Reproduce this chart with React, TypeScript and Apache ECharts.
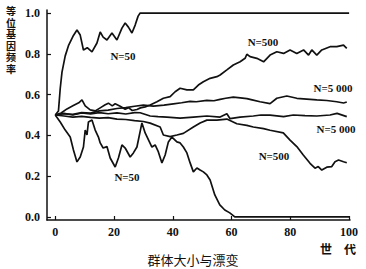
import React, { useEffect, useRef } from "react";
import * as echarts from "echarts";

// Generations (x) and allele frequency (y) pairs
const n50Fixed: number[][] = [
  [0, 0.5], [1.1, 0.52], [1.7, 0.63], [2.3, 0.71], [3.4, 0.79], [4.5, 0.84], [6.2, 0.89],
  [7.4, 0.917], [8.5, 0.892], [9.6, 0.819], [10.9, 0.83], [12.5, 0.81], [14.2, 0.853],
  [15.3, 0.907], [16.3, 0.882], [17.6, 0.868], [19.3, 0.902], [21, 0.868], [22.7, 0.926],
  [23.8, 0.951], [24.9, 0.931], [26.1, 0.902], [27.2, 0.941], [28.2, 0.985], [28.9, 1.0],
  [100, 1.0],
];

const n50Lost: number[][] = [
  [0, 0.5], [1.7, 0.466], [3.4, 0.426], [5.1, 0.392], [6.2, 0.328], [7.4, 0.27], [8.5, 0.294],
  [9.6, 0.343], [10.2, 0.426], [10.8, 0.402], [11.3, 0.466], [12.5, 0.475], [13.6, 0.426],
  [14.7, 0.392], [15.3, 0.363], [16.3, 0.338], [17.6, 0.345], [18.7, 0.289], [20.4, 0.245],
  [21.5, 0.289], [22.7, 0.353], [23.8, 0.338], [25.5, 0.294], [26.6, 0.314], [27.8, 0.343],
  [29.5, 0.461], [30.6, 0.412], [32.9, 0.343], [34, 0.353], [35.1, 0.319], [36.3, 0.265],
  [37.4, 0.304], [38.5, 0.368], [39.7, 0.392], [41.4, 0.368], [42.5, 0.363], [43.6, 0.343],
  [44.8, 0.314], [45.9, 0.265], [47, 0.221], [48.2, 0.24], [49.3, 0.23], [50.4, 0.221],
  [51.6, 0.206], [52.7, 0.181], [54.3, 0.108], [56, 0.059], [57.7, 0.034], [59.4, 0.02],
  [61.1, 0.0], [100, 0.0],
];

const n500Up: number[][] = [
  [0, 0.5], [2, 0.51], [4, 0.53], [6, 0.545], [8, 0.56], [9.1, 0.574], [10.2, 0.545],
  [11.9, 0.525], [13.6, 0.52], [15.3, 0.535], [17, 0.55], [18.1, 0.558], [19.4, 0.545],
  [20.4, 0.555], [22.1, 0.543], [23.8, 0.528], [24.9, 0.536], [26.2, 0.522], [27.8, 0.527],
  [29, 0.535], [30.6, 0.54], [32.3, 0.549], [34.6, 0.565], [36.8, 0.582], [39.1, 0.59],
  [40.8, 0.614], [42.5, 0.631], [44.8, 0.623], [47, 0.623], [48.7, 0.647], [50.4, 0.663],
  [52.7, 0.68], [55, 0.688], [56.1, 0.696], [58.4, 0.721], [60.6, 0.745], [62.9, 0.761],
  [64.6, 0.778], [65.2, 0.798], [66.3, 0.786], [68.6, 0.778], [70.9, 0.761], [73.1, 0.794],
  [75.4, 0.81], [77.7, 0.802], [79.9, 0.819], [82.2, 0.802], [84.5, 0.819], [86.2, 0.794],
  [87.3, 0.819], [89, 0.794], [90.7, 0.819], [93.5, 0.835], [95.8, 0.835], [98.1, 0.843],
  [99.2, 0.827],
];

const n500Down: number[][] = [
  [0, 0.5], [3, 0.495], [6, 0.49], [9, 0.493], [12, 0.488], [15, 0.485], [18, 0.487],
  [21, 0.48], [24, 0.478], [27, 0.472], [30, 0.468], [32.3, 0.46], [35.7, 0.441],
  [36.8, 0.402], [39.1, 0.394], [41.4, 0.402], [43.6, 0.41], [47, 0.441], [49.3, 0.461],
  [51.6, 0.475], [55, 0.475], [58.4, 0.48], [61.8, 0.457], [65.2, 0.449], [67.4, 0.441],
  [70.9, 0.433], [73.1, 0.425], [77.6, 0.412], [79.9, 0.377], [82.2, 0.345], [84.4, 0.304],
  [86.7, 0.263], [88.4, 0.239], [89.5, 0.247], [90.7, 0.23], [92.4, 0.244], [94.1, 0.247],
  [95.2, 0.271], [96.4, 0.279], [98.1, 0.271], [99.2, 0.266],
];

const n5000Upper: number[][] = [
  [0, 0.5], [3, 0.506], [6, 0.503], [9, 0.512], [12, 0.509], [15, 0.52], [18, 0.524],
  [21, 0.532], [24, 0.536], [27, 0.543], [30, 0.548], [33.4, 0.544], [37, 0.548],
  [40.2, 0.555], [43, 0.56], [45.9, 0.567], [48, 0.565], [51.6, 0.572], [54, 0.57],
  [56.1, 0.577], [58, 0.582], [60.6, 0.588], [63, 0.584], [65.2, 0.58], [67, 0.574],
  [69.7, 0.565], [73.1, 0.556], [75.4, 0.582], [78.8, 0.593], [82.2, 0.582], [85.6, 0.578],
  [89, 0.574], [92.4, 0.571], [95.8, 0.565], [98.1, 0.559], [99.2, 0.564],
];

const n5000Lower: number[][] = [
  [0, 0.5], [3, 0.508], [6, 0.5], [9, 0.51], [12, 0.505], [15, 0.512], [18, 0.506],
  [21, 0.51], [24, 0.505], [27, 0.512], [28.9, 0.511], [32.3, 0.495], [35, 0.492],
  [38, 0.49], [42.5, 0.485], [47, 0.49], [51.6, 0.495], [56.1, 0.49], [58.4, 0.506],
  [59.5, 0.482], [62.9, 0.49], [67.4, 0.495], [70, 0.5], [73.1, 0.499], [77.7, 0.492],
  [81, 0.5], [85, 0.497], [89, 0.495], [93.5, 0.5], [95.9, 0.508], [99.2, 0.492],
];

const xTicks = [0, 20, 40, 60, 80, 100];
const yTicks = [0, 0.2, 0.4, 0.6, 0.8, 1.0];

const yTitleChars = ["等", "位", "基", "因", "频", "率"];
const xTitleChars = ["世", "代"];
const caption = "群体大小与漂变";

const serifBold = 'bold 11px "Liberation Serif", "DejaVu Serif", serif';
const cjkBold = 'bold 10px "Noto Sans CJK SC", sans-serif';

export default function App() {
  const ref = useRef<HTMLDivElement>(null);

  useEffect(() => {
    if (!ref.current) return;
    const chart = echarts.init(ref.current, undefined, { renderer: "svg" });
    const lineStyle = { color: "#111", width: 1.7 };
    const mk = (name: string, data: number[][]) => ({
      type: "line",
      name,
      data,
      showSymbol: false,
      symbol: "none",
      lineStyle,
      silent: true,
    });
    const txt = (text: string, x: number, y: number, font: string) => ({
      type: "text",
      x,
      y,
      style: {
        text,
        font,
        fill: "#111",
        align: "center",
        verticalAlign: "middle",
      },
    });
    chart.setOption({
      animation: false,
      backgroundColor: "#fff",
      grid: { left: 47, right: 16, top: 10, bottom: 49, containLabel: false },
      xAxis: {
        type: "value",
        min: -2.8,
        max: 100.3,
        splitLine: { show: false },
        axisLine: { show: true, onZero: false, lineStyle: { color: "#111", width: 1.5 } },
        axisTick: { show: true, inside: true, length: 4, customValues: xTicks, lineStyle: { color: "#111", width: 1.2 } },
        axisLabel: {
          customValues: xTicks,
          color: "#111",
          fontFamily: '"Liberation Serif", serif',
          fontWeight: "bold",
          fontSize: 12,
          margin: 6,
        },
      },
      yAxis: {
        type: "value",
        min: -0.015,
        max: 1.015,
        splitLine: { show: false },
        axisLine: { show: true, onZero: false, lineStyle: { color: "#111", width: 1.5 } },
        axisTick: { show: true, inside: true, length: 4, customValues: yTicks, lineStyle: { color: "#111", width: 1.2 } },
        axisLabel: {
          customValues: yTicks,
          color: "#111",
          fontFamily: '"Liberation Serif", serif',
          fontWeight: "bold",
          fontSize: 12,
          margin: 7,
          formatter: (v: number) => v.toFixed(1),
        },
      },
      series: [
        mk("N=50 fixed", n50Fixed),
        mk("N=50 lost", n50Lost),
        mk("N=500 up", n500Up),
        mk("N=500 down", n500Down),
        mk("N=5000 upper", n5000Upper),
        mk("N=5000 lower", n5000Lower),
      ],
      graphic: [
        txt("N=50", 123, 56, serifBold),
        txt("N=500", 263, 42, serifBold),
        txt("N=5 000", 333, 88, serifBold),
        txt("N=5 000", 336, 129, serifBold),
        txt("N=500", 274, 156, serifBold),
        txt("N=50", 127, 177, serifBold),
        ...yTitleChars.map((c, i) => txt(c, 11, 10.5 + i * 11.6, cjkBold)),
        txt(xTitleChars[0], 326, 248, 'bold 12px "Noto Sans CJK SC", sans-serif'),
        txt(xTitleChars[1], 350, 248, 'bold 12px "Noto Sans CJK SC", sans-serif'),
        txt(caption, 193, 259, '13px "Noto Sans CJK SC", sans-serif'),
      ],
    });
    return () => chart.dispose();
  }, []);

  return (
    <div
      ref={ref}
      style={{ position: "fixed", left: 0, top: 0, width: 366, height: 269 }}
    />
  );
}
